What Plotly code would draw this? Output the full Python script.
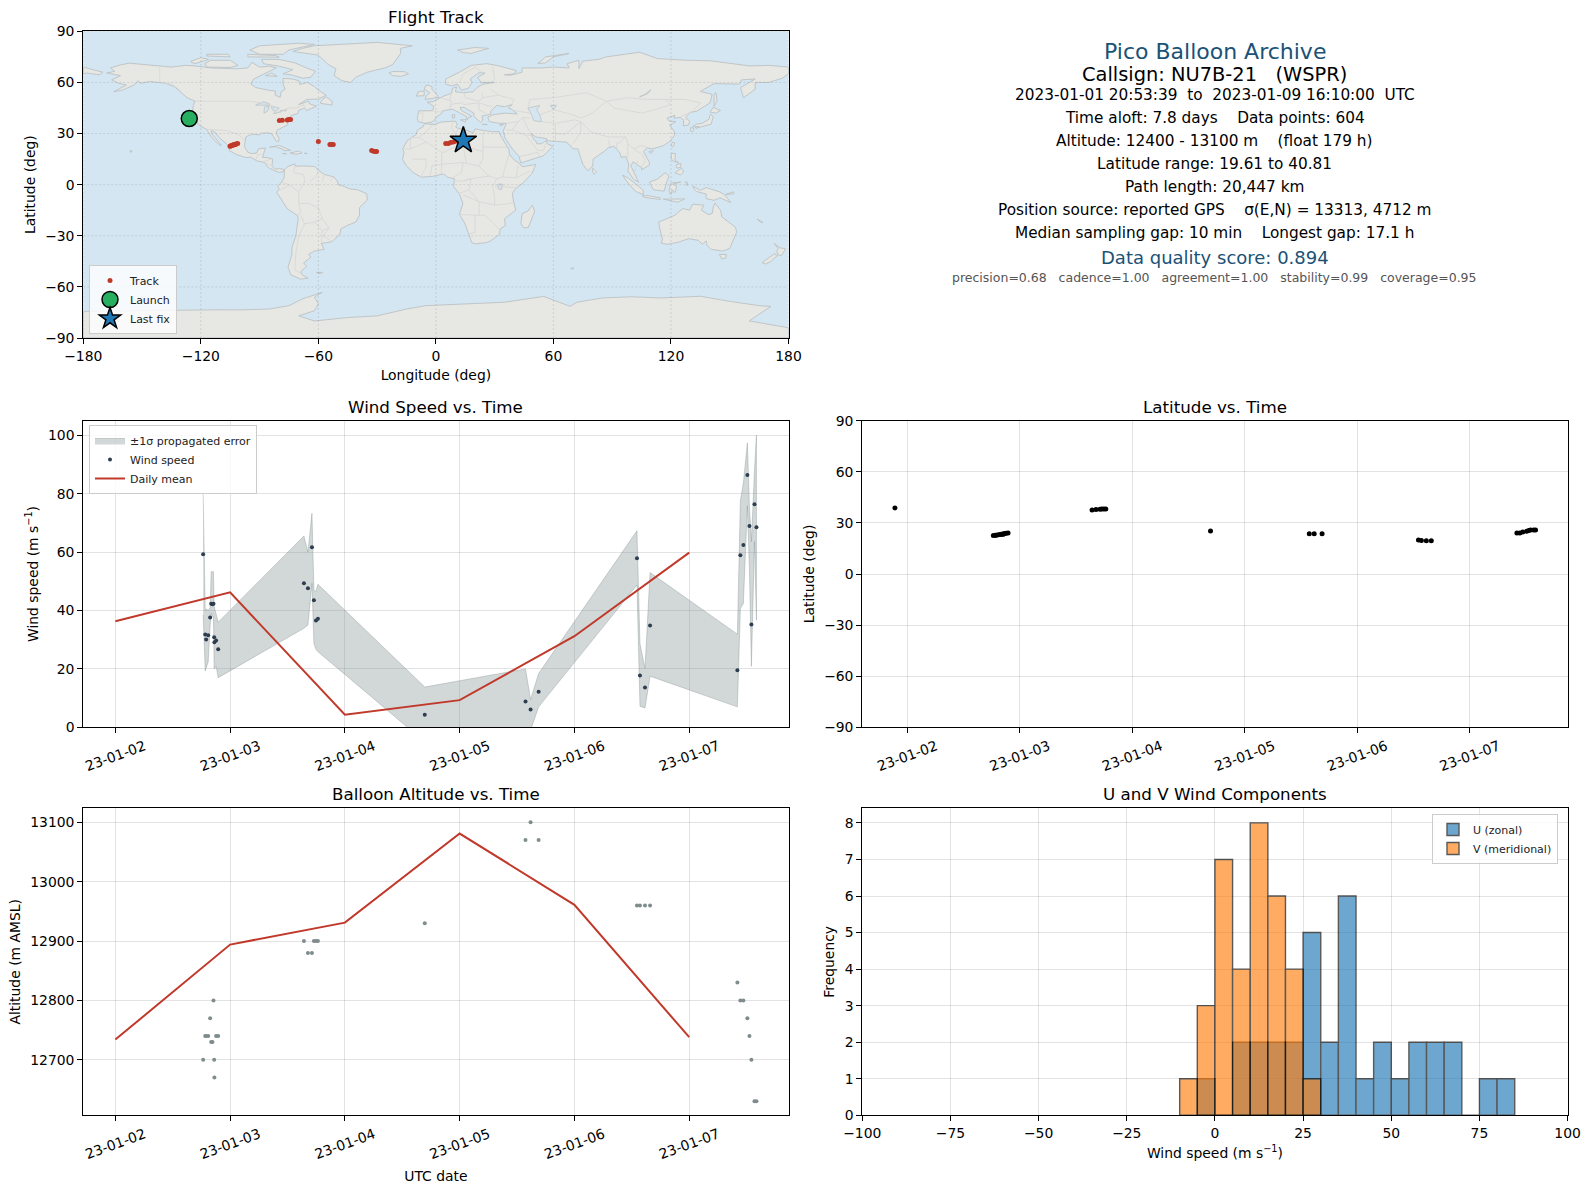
import plotly.graph_objects as go
import pandas as pd

# values
time_days = [0.765, 0.783, 0.791, 0.809, 0.826, 0.835, 0.846, 0.855, 0.861, 0.863, 0.878, 0.896,
             1.643, 1.678, 1.713, 1.730, 1.748, 1.765, 2.696, 3.574, 3.618, 3.688,
             4.545, 4.571, 4.615, 4.659, 5.420, 5.446, 5.472, 5.507, 5.525, 5.542, 5.569, 5.586]
wind_speed = [59.3, 31.8, 30.1, 31.5, 37.6, 42.3, 42.1, 42.3, 30.8, 29.1, 29.7, 26.7,
              49.3, 47.6, 61.7, 43.5, 36.6, 37.2, 4.3, 8.8, 6.1, 12.2,
              57.9, 17.7, 13.6, 34.9, 19.5, 58.9, 62.4, 86.4, 68.9, 35.2, 76.4, 68.5]
wind_upper = [80, 40, 40.5, 40, 41, 53.3, 53.3, 53.3, 41.3, 41, 39.5, 36,
              65.5, 60, 73.3, 47, 46.5, 49, 13.8, 20, 9.5, 18.4,
              67.3, 28.7, 20.1, 53, 31.9, 77.7, 83.6, 97.4, 75.6, 63.6, 88, 100]
wind_lower = [38.5, 19.3, 20, 22.4, 35, 39, 38, 38, 20, 20, 21, 17,
              33.9, 35, 49.3, 28.7, 26.7, 25.9, -5, -2.4, -1, 7,
              48.7, 7.2, 6.6, 17.5, 7, 40.7, 42.4, 75.9, 53.9, 20.9, 63.6, 36.7]
altitude = [12700, 12740, 12740, 12740, 12770, 12730, 12730, 12800, 12700, 12670, 12740, 12740,
            12900, 12880, 12880, 12900, 12900, 12900, 12930, 13070, 13100, 13070,
            12960, 12960, 12960, 12960, 12830, 12800, 12800, 12770, 12740, 12700, 12630, 12630]
latitude = [22.6, 22.7, 22.8, 23.0, 23.2, 23.3, 23.4, 23.5, 23.6, 23.7, 23.9, 24.1,
            37.6, 37.8, 38.0, 38.1, 38.2, 38.2, 25.3, 23.6, 23.6, 23.6,
            20.0, 19.6, 19.5, 19.5, 24.1, 24.1, 24.7, 25.1, 25.5, 25.9, 25.9, 25.9]
longitude = [-105.1, -104.8, -104.6, -104.1, -103.7, -103.4, -103.0, -102.7, -102.5, -102.3, -102.0, -101.2,
             -79.9, -78.4, -75.9, -75.3, -74.8, -74.2, -60.0, -54.1, -53.3, -52.4,
             -32.8, -31.8, -31.0, -30.3, 5.0, 6.3, 7.5, 8.8, 10.0, 11.3, 12.6, 14.0]
launch_day = [-0.11]
launch_lon = [-125.9]
launch_lat = [38.8]

mean_days = [0, 1, 2, 3, 4, 5]
mean_wind = [36.3, 46.2, 4.3, 9.3, 31.2, 59.8]
mean_alt = [12734, 12894, 12931, 13081, 12961, 12738]

u_edges = [-5, 0, 5, 10, 15, 20, 25, 30, 35, 40, 45, 50, 55, 60, 65, 70, 75, 80, 85]
u_counts = [1, 0, 2, 2, 2, 2, 5, 2, 6, 1, 2, 1, 2, 2, 2, 0, 1, 1]
v_edges = [-10, -5, 0, 5, 10, 15, 20, 25, 30]
v_counts = [1, 3, 7, 4, 8, 6, 4, 1]

info_lines = [
    "Pico Balloon Archive",
    "Callsign: NU7B-21\u00a0\u00a0\u00a0(WSPR)",
    "2023-01-01 20:53:39\u00a0\u00a0to\u00a0\u00a02023-01-09 16:10:00\u00a0\u00a0UTC",
    "Time aloft: 7.8 days\u00a0\u00a0\u00a0\u00a0Data points: 604",
    "Altitude: 12400 - 13100 m\u00a0\u00a0\u00a0\u00a0(float 179 h)",
    "Latitude range: 19.61 to 40.81",
    "Path length: 20,447 km",
    "Position source: reported GPS\u00a0\u00a0\u00a0\u00a0\u03c3(E,N) = 13313, 4712 m",
    "Median sampling gap: 10 min\u00a0\u00a0\u00a0\u00a0Longest gap: 17.1 h",
    "Data quality score: 0.894",
    "precision=0.68\u00a0\u00a0\u00a0cadence=1.00\u00a0\u00a0\u00a0agreement=1.00\u00a0\u00a0\u00a0stability=0.99\u00a0\u00a0\u00a0coverage=0.95",
]

# rough coastlines, lon/lat
north_america = [(-168, 65.5), (-164, 66.5), (-166, 68.5), (-161, 70.3), (-156.5, 71.3), (-150, 70.5), (-141, 69.7),
                 (-135, 69), (-128, 70), (-124, 69.8), (-115, 68.5), (-108, 68), (-102, 68), (-96, 68.5), (-94, 71.8),
                 (-90, 69), (-85, 69.5), (-81.5, 68.5), (-87, 65.5), (-93, 62), (-94.5, 59), (-92, 57), (-85, 55.3),
                 (-82, 55), (-82, 52.5), (-79.5, 51.3), (-79, 54.5), (-77, 56), (-78, 59), (-78, 62.4), (-73, 62),
                 (-70, 61), (-69.5, 58.8), (-65.5, 60), (-62, 57.5), (-60, 55.5), (-56, 52.5), (-60, 50.2), (-66, 50),
                 (-70, 47), (-65, 49), (-64.5, 47.5), (-61, 46), (-64, 44.5), (-66, 43.5), (-67, 45), (-70, 43.7),
                 (-70.5, 41.7), (-74, 40.5), (-75.5, 38), (-76, 36.5), (-75.5, 35.2), (-78, 33.9), (-81, 32),
                 (-81.5, 30), (-80, 27), (-80.3, 25.3), (-81.5, 25.5), (-82.8, 28), (-84, 30), (-86, 30.4), (-89, 30.2),
                 (-90, 29.2), (-94, 29.6), (-97, 28), (-97.5, 25), (-97.8, 22.4), (-96, 19), (-94, 18.2), (-91.5, 18.6),
                 (-90.5, 21), (-87, 21.5), (-87.7, 18.5), (-88.5, 16), (-86, 15.9), (-83.3, 15), (-83.7, 11), (-82, 9),
                 (-79.7, 9.5), (-77.4, 8.7), (-78, 7.5), (-80.2, 7.3), (-82.5, 8.2), (-85.5, 10), (-87.5, 13), (-91.5, 14),
                 (-94.5, 16.2), (-97, 15.9), (-101.5, 17.5), (-105.5, 20), (-105.5, 22.5), (-108.5, 25.2), (-110.5, 27.5),
                 (-113, 31), (-114.7, 31.7), (-114.5, 30), (-111, 25), (-109.5, 23), (-110.3, 23.2), (-112.2, 25),
                 (-114.5, 27.8), (-116, 30.5), (-117.2, 32.6), (-120.5, 34.5), (-122.5, 37.5), (-124.3, 40.5), (-124, 46),
                 (-123, 49), (-127, 51), (-130.5, 54.5), (-133.5, 57.5), (-138, 59.5), (-146, 60.5), (-151, 59.5),
                 (-152, 61), (-154, 58.5), (-160, 55.5), (-164.5, 54.5), (-158, 58.5), (-162, 59.5), (-165.5, 61.5),
                 (-161, 64), (-168, 65.5)]
south_america = [(-77.4, 8.7), (-75.5, 10.7), (-72, 12.2), (-71.5, 10.8), (-68, 11), (-62, 10.7), (-60, 8.5), (-57, 6),
                 (-52, 4.5), (-50, 1.5), (-50, 0), (-47.5, -0.7), (-44, -2.5), (-40, -3), (-35.3, -5.3), (-35, -9),
                 (-39, -13.5), (-39, -18), (-41, -22), (-45, -23.8), (-48.5, -26), (-49, -29), (-53, -33.5), (-58.5, -34.5),
                 (-57, -38), (-62, -39), (-65, -41), (-63.8, -42.5), (-67.5, -46), (-66, -48), (-69, -51), (-68.3, -53),
                 (-65.2, -54.8), (-69, -55.5), (-74, -53), (-75.5, -48.5), (-73.5, -41), (-73.5, -37), (-71.5, -30),
                 (-70.3, -20), (-70.5, -18.3), (-76, -14), (-79.5, -7.5), (-81.3, -4.5), (-80, -2.5), (-80.8, -1),
                 (-78.8, 1.5), (-77.5, 4), (-77.4, 7), (-77.4, 8.7)]
africa = [(-5.9, 35.8), (-1, 35.3), (3, 36.8), (10, 37.3), (11, 35), (10, 34), (11, 33.2), (15, 32.3), (19, 30.3), (20, 32.7),
          (25, 31.7), (29, 31), (32.3, 31.2), (32.5, 29.8), (34, 27), (36, 23), (37.3, 20.5), (37.5, 18), (39.5, 15), (43, 12),
          (44, 10.5), (51, 11.8), (49, 6.5), (44.5, 1), (41, -2), (39, -5), (39.5, -9), (40.7, -15), (35, -20), (35.5, -24),
          (32.8, -26), (32.5, -29), (28, -33), (25.7, -34), (20, -34.8), (18.3, -34), (17, -30), (14.7, -22.5), (12, -17.5),
          (13.8, -11), (12, -5.5), (9, -1), (9.5, 3.5), (6, 4.3), (4, 6.3), (-2, 4.8), (-7.5, 4.4), (-11.5, 7), (-15, 11),
          (-17, 14.7), (-16.3, 19), (-17, 21), (-14.5, 26), (-10, 29.5), (-9.5, 32), (-6.5, 34), (-5.9, 35.8)]
eurasia = [(-9, 37), (-9.5, 38.7), (-8.8, 43.3), (-1.8, 43.4), (-1, 46), (-4.5, 48.4), (-1.5, 48.7), (1.5, 50.5), (4, 52),
           (8, 53.7), (8.5, 56.5), (10.5, 57.5), (10, 54.5), (14, 54), (19, 54.5), (21, 57), (24, 59), (30, 60), (23, 60),
           (21.3, 63), (25, 65.5), (22, 65.7), (17.5, 62), (18.5, 60), (16.5, 56.5), (13, 55.5), (11, 59), (8, 58), (5, 59),
           (5, 62), (12, 66), (18, 70), (26, 71), (31, 70), (41, 67), (40, 65), (35, 64.5), (38, 64.2), (44, 66), (44, 68.5),
           (54, 68.5), (60, 69), (68, 68.5), (67, 71), (73, 73), (73, 68), (75, 72.5), (83, 73.5), (87, 75), (104, 77.7),
           (113, 74), (128, 73), (140, 72.7), (160, 69.7), (170, 70), (180, 69), (180, 65), (177, 62.5), (170, 60), (163, 60),
           (163, 56), (157, 51), (155.5, 57), (163, 62), (156, 61.5), (155, 59), (142, 59.3), (135, 54.7), (141, 53), (140, 48),
           (133, 43), (130, 42.5), (127.5, 39.8), (129.5, 37), (129, 35), (126.3, 34.5), (126.5, 37.5), (125, 39.5), (121.5, 39),
           (122, 40.7), (118, 39), (119, 37.3), (122.5, 37), (119.3, 35), (121.8, 31), (121.8, 29), (119.5, 25.5), (116, 22.8),
           (110.5, 21), (108, 21.6), (106, 19.5), (109, 13), (109, 11.5), (105, 8.7), (105, 10), (100.7, 13.4), (99.5, 11),
           (103.5, 1.5), (101, 3), (98, 8), (98.5, 12), (97, 16.5), (94.5, 16), (94, 18.5), (91, 22.5), (88, 21.7), (86.5, 20),
           (80.3, 15), (80, 11), (77.5, 8), (75, 12), (73, 19), (72.5, 21), (70, 21), (69, 22.5), (66.5, 25), (61, 25.2),
           (57, 25.7), (56.5, 27), (51, 28), (48.5, 30), (50, 26.5), (51.3, 25), (51.5, 24), (54, 24), (56.3, 26), (56.8, 24),
           (59.7, 22.5), (55, 17), (52, 15.8), (45, 13), (43.3, 12.7), (42.5, 16.5), (39, 21), (35, 28), (34.9, 29.5), (34.3, 31.3),
           (36, 36), (32.5, 36), (30.5, 36.5), (27.3, 37), (26.5, 39.5), (29, 41), (35, 42), (41.5, 41.5), (39, 44), (37, 45),
           (39, 47), (35, 45.8), (33, 46), (31, 46.5), (28, 43), (28, 41.5), (26, 40.8), (23.5, 40.2), (24, 38), (22.8, 36.5),
           (19.5, 40), (19.3, 42), (14.5, 45.3), (12.3, 45.3), (13, 43.5), (18.4, 40), (16.5, 39.5), (16, 38), (15.5, 40), (10.5, 43),
           (8.5, 44.3), (3.2, 43.2), (3, 41.8), (0, 39.5), (-0.5, 38), (-2, 36.8), (-5.5, 36), (-9, 37)]
australia = [(113.7, -22), (114.3, -26), (115.7, -32), (115, -34.3), (118, -35), (123.5, -33.9), (129, -31.7), (134, -32.7),
             (136, -35), (138, -33), (138.3, -35.5), (140.5, -38), (144, -38.5), (146.3, -39), (150, -37.5), (151.5, -33),
             (153.5, -28), (153, -25), (149.5, -22), (146, -19), (145.3, -15), (143.5, -12.7), (142.5, -10.8), (141.7, -13),
             (141, -17), (139, -17.5), (135.5, -15), (136.7, -12), (131, -11.5), (129.5, -15), (126, -14), (122, -18),
             (117, -20.7), (113.7, -22)]
antarctica = [(-180, -84), (-180, -74.4), (-110, -73.4), (-100, -73.5), (-85, -73), (-75, -71), (-68, -67), (-58, -63.2),
              (-62, -66), (-60, -70), (-62, -74), (-70, -77), (-62, -80), (-45, -78), (-30, -77), (-15, -73), (-5, -71), (15, -70),
              (35, -69), (55, -65.6), (68.5, -71.4), (72, -69), (85, -66.5), (100, -65.8), (115, -66.5), (135, -65.5), (150, -68.5),
              (165, -71), (171, -71.5), (165, -76), (160, -80), (180, -84), (180, -90), (-180, -90), (-180, -84)]
islands = [
    [(-180, 69), (-175, 67.5), (-170, 66), (-172, 64.5), (-178, 65.5), (-180, 65), (-180, 69)],
    [(-73, 78.2), (-60, 76), (-55, 70.5), (-51, 68), (-52, 64), (-48, 61), (-43.5, 60), (-41, 63), (-35, 66), (-26, 68.5),
     (-22, 70.5), (-20, 74), (-18, 77), (-18, 80), (-12, 81.5), (-30, 83.5), (-50, 82.5), (-62, 81.5), (-68, 80), (-73, 78.2)],
    [(-80, 73.5), (-72, 71.5), (-67, 69), (-61.5, 66.5), (-64, 63), (-68, 62.5), (-74, 64.5), (-78, 65), (-73, 67.5), (-80, 69.5),
     (-88, 71), (-89, 73.5), (-80, 73.5)],
    [(-117, 69), (-105, 68.8), (-101, 70), (-105, 73), (-115, 73), (-118, 71), (-117, 69)],
    [(-125, 72), (-123, 71), (-116, 73.5), (-120, 74.5), (-125, 72.5), (-125, 72)],
    [(-90, 76.5), (-78, 76.5), (-75, 79), (-62, 82.3), (-70, 83), (-90, 81.5), (-95, 79), (-90, 76.5)],
    [(-96, 75), (-80, 74.8), (-82, 75.8), (-96, 76.5), (-96, 75)],
    [(-117, 75.5), (-105, 75), (-106, 76.5), (-117, 76.5), (-117, 75.5)],
    [(-87, 64), (-81, 63.5), (-84, 65.5), (-87, 64)],
    [(-59, 47.7), (-53, 46.7), (-53, 49), (-56, 51.5), (-58, 50), (-59, 47.7)],
    [(-24, 65.5), (-22, 64), (-18, 63.5), (-14, 65), (-16, 66.3), (-22, 66.4), (-24, 65.5)],
    [(-84.8, 22), (-80, 23), (-74.2, 20.2), (-77.7, 19.9), (-78, 20.7), (-82, 22.3), (-84.8, 22)],
    [(-74.4, 18.5), (-70, 19.8), (-68.4, 18.6), (-71.5, 17.8), (-74.4, 18.5)],
    [(-78.3, 18.3), (-76.3, 18.1), (-77.2, 17.8), (-78.3, 18.3)],
    [(-67.2, 18.4), (-65.7, 18.3), (-66.5, 18), (-67.2, 18.4)],
    [(-61, -51.5), (-57.8, -51.5), (-59, -52.3), (-61, -51.5)],
    [(-156, 19), (-155, 19.6), (-156, 20.2), (-156, 19)],
    [(-5.5, 50), (1.5, 51.2), (0, 53.5), (-2, 56), (-2, 57.6), (-5, 58.6), (-6, 56), (-3, 54), (-5, 52), (-5.5, 50)],
    [(-10, 52), (-6, 52.2), (-6, 55), (-9, 54.5), (-10, 52)],
    [(11, 79), (20, 80.5), (27, 80), (18, 77), (14, 77.5), (11, 79)],
    [(52, 71), (56, 75), (68, 77), (60, 75), (56, 71.5), (52, 71)],
    [(12.5, 38), (15.5, 38.2), (15, 36.7), (12.5, 38)],
    [(8.3, 41), (9.7, 41), (9.5, 39.2), (8.5, 39), (8.3, 41)],
    [(23.6, 35.4), (26.2, 35.2), (24.8, 34.9), (23.6, 35.4)],
    [(32.5, 35), (34.5, 35.5), (33.5, 34.6), (32.5, 35)],
    [(49.3, -12), (50.4, -15.8), (47.2, -25), (45, -25.5), (43.4, -23), (44, -17), (47, -15.5), (49.3, -12)],
    [(80, 9.7), (82, 7.5), (80.7, 6), (80, 7.5), (80, 9.7)],
    [(131, 34), (133, 35.5), (136, 36), (139.5, 38.5), (140, 41.3), (141.7, 40), (141, 37.5), (140.5, 35.5), (137, 34.5), (135, 33.7), (131, 34)],
    [(130, 33.5), (131.8, 33), (131, 31), (130, 31.5), (130, 33.5)],
    [(132.5, 34), (134.5, 34), (133, 32.9), (132.5, 34)],
    [(140, 42.5), (141.5, 45.4), (145.3, 43.5), (143, 42), (140, 42.5)],
    [(142, 46), (143.5, 49), (143, 54), (142, 53), (142, 48), (142, 46)],
    [(121, 25), (122, 24.5), (120.8, 22), (120, 23.5), (121, 25)],
    [(108.7, 19.3), (111, 20), (110, 18.3), (108.7, 19.3)],
    [(120.5, 18.5), (122.3, 18.2), (122, 14.3), (124, 12.8), (120.7, 14), (120, 16.5), (120.5, 18.5)],
    [(122, 7), (125.5, 9.7), (126.5, 7.5), (125, 5.7), (122, 7)],
    [(122.5, 11.5), (125, 12.5), (125, 10.2), (123, 9.7), (122.5, 11.5)],
    [(109, 1.5), (113, 3.2), (117, 7), (119, 5), (117.7, 1), (116.5, -3.8), (111, -3), (109.5, 0), (109, 1.5)],
    [(95.3, 5.6), (98, 4), (103.5, -1), (106, -3.5), (105.8, -5.8), (102, -4), (98, 1), (95.3, 5.6)],
    [(105.3, -6.5), (108.5, -6.5), (114.5, -7.7), (114.5, -8.7), (106.5, -7.5), (105.3, -6.5)],
    [(119.5, -5.5), (119, -3), (120, 1), (125, 1.5), (121, 0.3), (123, -1), (122, -4.7), (120.5, -2.8), (120.4, -5.5), (119.5, -5.5)],
    [(116, -8.5), (125, -8.5), (127, -8.4), (123.5, -10.3), (119, -9), (116, -8.5)],
    [(131, -0.8), (135, -3.3), (138, -1.7), (145, -4.3), (147.5, -6), (150.5, -10.5), (145, -7.7), (142, -9.2), (138, -8.2), (138, -5.5), (133, -4), (132, -2.8), (131, -0.8)],
    [(148, -5.7), (152, -4.2), (152, -5.5), (148, -5.7)],
    [(127.5, 1.8), (128.7, 1), (128, -0.8), (127.5, 1.8)],
    [(144.7, -41), (148.3, -41), (148, -43), (146, -43.6), (144.7, -41)],
    [(172.7, -34.5), (175.5, -37), (178.5, -37.7), (176.5, -41.5), (174.8, -41.3), (174, -39), (174.8, -37.5), (172.7, -34.5)],
    [(172.7, -40.6), (174.3, -41.7), (171, -45), (168.5, -46.6), (166.5, -45.8), (170, -43), (172.7, -40.6)],
    [(164, -20.2), (167, -22.3), (165.5, -21.8), (164, -20.2)],
    [(68.8, -49), (70.5, -49), (69.5, -49.8), (68.8, -49)],
]
lakes = [
    [(47, 45), (53, 46.5), (51.5, 44), (53, 41), (54, 37), (50, 37.5), (49, 40.5), (47, 45)],
    [(-92, 46.7), (-88, 48.7), (-85, 47.5), (-85, 46.6), (-92, 46.7)],
    [(-87.8, 42), (-86, 43), (-85, 46), (-87.5, 45.5), (-87.8, 42)],
    [(-84, 46), (-80, 45), (-81.7, 43), (-83.5, 44), (-84, 46)],
    [(-83, 41.7), (-79, 42.8), (-79, 42.4), (-83, 41.7)],
    [(-79.5, 43.3), (-76.2, 44), (-76.5, 43.4), (-79.5, 43.3)],
    [(58.5, 46.5), (61.5, 46.5), (60, 44), (58.5, 46.5)],
    [(31.7, 0.3), (34, 0.3), (33.5, -2.8), (31.8, -2.5), (31.7, 0.3)],
    [(104, 51.6), (106, 52.5), (109.8, 55.7), (108, 53.3), (104, 51.6)],
]
borders = [
    [(-123, 49), (-95, 49), (-89, 48), (-83, 46), (-82.5, 42), (-79, 43), (-75, 45), (-71, 45), (-67.5, 47), (-67, 45)],
    [(-141, 69.7), (-141, 60), (-135, 59), (-130, 55)],
    [(-117, 32.5), (-106.5, 31.7), (-101, 29.5), (-97.5, 26)],
    [(-92, 14.5), (-91, 17.5), (-89, 17.8)], [(-88, 13.5), (-84, 15)], [(-87, 13), (-83.7, 11)], [(-83.7, 11), (-82.7, 9)],
    [(-72, 12), (-72.5, 7), (-67.5, 6), (-67, 1.5), (-70, -4.2)], [(-78.8, 1.5), (-75, 0), (-70, -4.2), (-70, -11), (-69, -16), (-70.3, -18)],
    [(-80, -3.5), (-75, -0.5)], [(-60, 8.5), (-61, 5), (-64, 2)], [(-57, 6), (-58, 2)], [(-52, 4.5), (-54, 2.2)],
    [(-70, -11), (-65, -11), (-60, -13.5), (-58, -20), (-62, -22), (-67, -23), (-69, -18)],
    [(-67, -23), (-70, -30), (-71.5, -40), (-72, -50), (-69, -52)], [(-58, -20), (-54.5, -25.5), (-58, -27), (-62, -22)],
    [(-54.5, -25.5), (-57.5, -30), (-53, -33.5)], [(-58, -27), (-58.4, -34)],
    [(-1.7, 35), (-5, 31), (-8.7, 27.7), (-13, 27.7)], [(-8.7, 27.7), (-4.8, 25), (3, 19), (4, 19), (12, 23.5), (14, 22.5), (24, 19.5), (24, 30), (25, 31.7)],
    [(12, 23.5), (10, 30), (8, 33), (8.5, 37)], [(10, 30), (11.5, 33)], [(24, 22), (37, 22)], [(24, 19.5), (24, 15), (22, 11), (27, 5), (31, 3.5), (34, 4.5), (36, 13), (37.5, 18)],
    [(-17, 21), (-13, 21), (-13, 27.7)], [(-13, 21), (-5, 25)], [(3, 19), (3, 12), (-2, 11), (-3, 5)], [(3, 12), (2.7, 6.3)], [(-12, 15), (-5, 15), (-5, 10), (-8, 4.5)],
    [(14, 22.5), (15.5, 12.5), (14, 13), (13, 7), (9, 4.5)], [(3, 12), (14, 13)], [(15.5, 12.5), (22, 11)], [(14, 2.2), (18, 3.5), (27, 5)],
    [(9.8, 2.2), (14, 2.2), (18, 3.5), (17, -3), (12, -5)], [(17, -3), (22, -10), (13.8, -6)], [(22, -10), (22, -18), (12, -17.5)], [(22, -10), (30, -12), (30, -8), (29, -1), (31, 3.5)],
    [(22, -18), (25, -18), (29, -22), (32, -26)], [(20, -18), (20, -28), (17, -29)], [(30, -12), (35, -11.5), (40, -10.5)], [(30, -1), (34, -1), (41, -2)], [(34, 4.5), (41, 4), (42, 11)], [(41, 4), (48, 8)],
    [(-1.8, 43.4), (3, 42.4)], [(-9, 42), (-6.5, 42), (-7, 37)], [(2.5, 51), (8, 49), (7, 44)], [(8, 54), (7, 49.5)], [(14.3, 54), (15, 51), (22, 49), (24, 51), (23.5, 54)], [(14, 48), (9, 47.5), (7, 46)], [(14, 47), (22, 48), (29, 45.5)], [(22, 48), (22, 44), (26, 41.5)],
    [(28, 60), (30, 62), (29, 69.5)], [(24, 65.5), (20, 69)], [(12, 60), (14, 65), (20, 69)], [(28, 56), (32, 52.5), (40, 50), (38.5, 47)], [(24, 51), (32, 52.5)],
    [(40, 43.5), (48, 42)], [(47, 45), (48, 50), (60, 51), (77, 54), (87, 49)], [(87, 49), (98, 51), (108, 50), (117, 50), (127, 50), (135, 48), (131, 43)],
    [(87, 49), (80, 42), (74, 39)], [(87, 49), (91, 45), (105, 42), (112, 44), (120, 47), (117, 50)], [(53, 41), (60, 44), (70, 41), (74, 39)], [(54, 37), (61, 36), (61, 30), (61, 25)],
    [(61, 36), (66, 37), (71, 38), (74, 37)], [(74, 37), (70, 33), (66, 29.5), (61, 30)], [(74, 37), (74, 31), (70, 24)], [(74, 37), (79, 31), (88, 28), (97, 28), (98, 24), (101, 21), (105, 23), (108, 21.6)],
    [(88, 26), (89, 22)], [(92, 25), (92.5, 21)], [(97, 28), (93, 24)], [(98, 24), (98, 16)], [(101, 21), (105, 18), (107, 14), (105, 10.5)], [(101, 6), (103, 14)],
    [(36, 36), (42, 37), (44.5, 39.5), (48, 39)], [(44.5, 39.5), (46, 35), (48.5, 30)], [(36, 32), (39, 32), (42, 37)], [(39, 32), (46, 29), (48.5, 29)], [(46, 29), (52, 20), (55, 20), (56, 24)], [(43, 16.5), (52, 19), (53, 16)], [(125, 40), (130, 42.5)], [(126, 38), (128.5, 38.5)],
]

lon_ticks = [-180, -120, -60, 0, 60, 120, 180]
lat_ticks = [-90, -60, -30, 0, 30, 60, 90]
wind_ticks = [0, 20, 40, 60, 80, 100]
alt_ticks = [12700, 12800, 12900, 13000, 13100]
freq_ticks = [0, 1, 2, 3, 4, 5, 6, 7, 8]
hist_ticks = [-100, -75, -50, -25, 0, 25, 50, 75, 100]

# layout in pixels of the 1589x1189 page
W, H = 1589, 1189
LEFT = [83.3 / W, 788.5 / W]
RIGHT = [862.3 / W, 1567.6 / W]


def row(top, bottom):
    return [1 - bottom / H, 1 - top / H]


ROW1 = row(31.3, 338)
ROW2 = row(420.7, 727.3)
ROW3 = row(808.3, 1115.3)

FONT = "DejaVu Sans"
RED = "#c0392b"
DARK = "#2c3e50"
GREY = "#7f8c8d"
BLUE = "#1a5276"
GRID = "rgba(0,0,0,0.11)"


def stamp(days):
    return pd.Timestamp("2023-01-02") + pd.to_timedelta(days, unit="D")


def outline(polygons):
    xs, ys = [], []
    for poly in polygons:
        xs += [p[0] for p in poly] + [None]
        ys += [p[1] for p in poly] + [None]
    return xs, ys


def ax_style(domain, anchor, title=None, standoff=None, **kw):
    d = dict(domain=domain, anchor=anchor, automargin=False, showline=True, mirror=True, linecolor="black", linewidth=1.1,
             ticks="outside", ticklen=5, tickwidth=1.1, tickcolor="black", showgrid=True, gridcolor=GRID,
             gridwidth=1.1, zeroline=False, tickfont=dict(size=13.9, color="black"), layer="above traces")
    if title:
        d["title"] = dict(text=title, standoff=standoff, font=dict(size=13.9, color="black"))
    d.update(kw)
    return d


def time_axis(domain, anchor, rng, title=None):
    return ax_style(domain, anchor, title=title, standoff=10, type="date", range=[stamp(rng[0]), stamp(rng[1])],
                    tick0="2023-01-02", dtick=86400000, tickformat="%y-%m-%d", tickangle=-20,
                    ticklabelshift=29, ticklabelstandoff=0)


fig = go.Figure()

# flight track map
land_x, land_y = outline([north_america, south_america, africa, eurasia, australia, antarctica] + islands)
fig.add_trace(go.Scatter(x=land_x, y=land_y, mode="lines", fill="toself", fillcolor="#e7e7e3",
                         line=dict(color="#bcc2c4", width=0.9), xaxis="x", yaxis="y", showlegend=False, hoverinfo="skip"))
lake_x, lake_y = outline(lakes)
fig.add_trace(go.Scatter(x=lake_x, y=lake_y, mode="lines", fill="toself", fillcolor="#d4e6f1",
                         line=dict(color="#bcc2c4", width=0.8), xaxis="x", yaxis="y", showlegend=False, hoverinfo="skip"))
border_x, border_y = outline(borders)
fig.add_trace(go.Scatter(x=border_x, y=border_y, mode="lines", line=dict(color="#d6d7d5", width=0.8),
                         xaxis="x", yaxis="y", showlegend=False, hoverinfo="skip"))
grid_x, grid_y = outline([[(v, -90), (v, 90)] for v in lon_ticks] + [[(-180, v), (180, v)] for v in lat_ticks])
fig.add_trace(go.Scatter(x=grid_x, y=grid_y, mode="lines", line=dict(color="rgba(90,100,105,0.2)", width=0.9, dash="2px,2px"),
                         xaxis="x", yaxis="y", showlegend=False, hoverinfo="skip"))
fig.add_trace(go.Scatter(x=longitude, y=latitude, mode="markers", name="Track", legend="legend",
                         marker=dict(color=RED, size=5), xaxis="x", yaxis="y"))
fig.add_trace(go.Scatter(x=launch_lon, y=launch_lat, mode="markers", name="Launch", legend="legend",
                         marker=dict(color="#27ae60", size=16, line=dict(color="black", width=1.5)), xaxis="x", yaxis="y"))
fig.add_trace(go.Scatter(x=longitude[-1:], y=latitude[-1:], mode="markers", name="Last fix", legend="legend",
                         marker=dict(color="#1f77b4", size=20, symbol="star", line=dict(color="black", width=1.5)),
                         xaxis="x", yaxis="y"))

# wind speed
t = stamp(time_days)
band_x = list(t) + list(t[::-1])
band_y = wind_upper + wind_lower[::-1]
fig.add_trace(go.Scatter(x=band_x, y=band_y, mode="lines", fill="toself", fillcolor="rgba(127,140,141,0.35)",
                         line=dict(color="rgba(127,140,141,0.35)", width=1), name="\u00b11\u03c3 propagated error",
                         legend="legend2", xaxis="x2", yaxis="y2"))
fig.add_trace(go.Scatter(x=t, y=wind_speed, mode="markers", name="Wind speed", legend="legend2",
                         marker=dict(color=DARK, size=4), xaxis="x2", yaxis="y2"))
fig.add_trace(go.Scatter(x=stamp(mean_days), y=mean_wind, mode="lines", name="Daily mean", legend="legend2",
                         line=dict(color=RED, width=2), xaxis="x2", yaxis="y2"))

# latitude
fig.add_trace(go.Scatter(x=stamp(launch_day + time_days), y=launch_lat + latitude, mode="markers", showlegend=False,
                         marker=dict(color="black", size=5), xaxis="x3", yaxis="y3"))

# altitude
fig.add_trace(go.Scatter(x=t, y=altitude, mode="markers", showlegend=False,
                         marker=dict(color=GREY, size=4), xaxis="x4", yaxis="y4"))
fig.add_trace(go.Scatter(x=stamp(mean_days), y=mean_alt, mode="lines", showlegend=False,
                         line=dict(color=RED, width=2), xaxis="x4", yaxis="y4"))

# wind components
for edges, counts, name, color in [(u_edges, u_counts, "U (zonal)", "#1f77b4"), (v_edges, v_counts, "V (meridional)", "#ff7f0e")]:
    centers = [(a + b) / 2 for a, b in zip(edges[:-1], edges[1:])]
    fig.add_trace(go.Bar(x=centers, y=counts, width=5, name=name, legend="legend3", opacity=0.65,
                         marker=dict(color=color, line=dict(color="black", width=1.4)), xaxis="x5", yaxis="y5"))

annotations = []
for text, dom_x, dom_y in [("Flight Track", LEFT, ROW1), ("Wind Speed vs. Time", LEFT, ROW2), ("Latitude vs. Time", RIGHT, ROW2),
                           ("Balloon Altitude vs. Time", LEFT, ROW3), ("U and V Wind Components", RIGHT, ROW3)]:
    annotations.append(dict(text=text, x=sum(dom_x) / 2, y=dom_y[1], xref="paper", yref="paper", xanchor="center",
                            yanchor="bottom", yshift=2, showarrow=False, font=dict(size=16.7, color="black")))

info_y = [51, 74, 95, 118, 141, 164, 187, 210, 233, 257, 278]
info_size = [22, 19.4, 15.3, 15.3, 15.3, 15.3, 15.3, 15.3, 15.3, 18, 12.5]
info_color = [BLUE, "black", "black", "black", "black", "black", "black", "black", "black", BLUE, "#555555"]
for text, ypx, size, color in zip(info_lines, info_y, info_size, info_color):
    annotations.append(dict(text=text, x=sum(RIGHT) / 2, y=1 - ypx / H, xref="paper", yref="paper", xanchor="center",
                            yanchor="middle", showarrow=False, font=dict(size=size, color=color)))

legend_base = dict(xref="paper", yref="paper", bgcolor="rgba(255,255,255,0.8)", bordercolor="#cccccc", borderwidth=1,
                   font=dict(size=11, color="#222222"), tracegroupgap=0, itemclick=False)

fig.update_layout(
    width=W, height=H,
    margin=dict(l=0, r=0, t=0, b=0),
    autosize=False,
    paper_bgcolor="white",
    plot_bgcolor="white",
    font=dict(family=FONT, color="black"),
    barmode="overlay",
    annotations=annotations,
    shapes=[dict(type="rect", xref="x domain", yref="y domain", x0=0, x1=1, y0=0, y1=1,
                 fillcolor="#d4e6f1", line=dict(width=0), layer="below")],
    xaxis=ax_style(LEFT, "y", "Longitude (deg)", 7, range=[-180, 180], tickvals=lon_ticks,
                   gridcolor="rgba(0,0,0,0)"),
    yaxis=ax_style(ROW1, "x", "Latitude (deg)", 6, range=[-90, 90], tickvals=lat_ticks,
                   gridcolor="rgba(0,0,0,0)"),
    xaxis2=time_axis(LEFT, "y2", [-0.2793, 5.8653]),
    yaxis2=ax_style(ROW2, "x2", "Wind speed (m s<sup>\u22121</sup>)", 6, range=[0, 105], tickvals=wind_ticks),
    xaxis3=time_axis(RIGHT, "y3", [-0.40, 5.871]),
    yaxis3=ax_style(ROW2, "x3", "Latitude (deg)", 6, range=[-90, 90], tickvals=lat_ticks),
    xaxis4=time_axis(LEFT, "y4", [-0.2793, 5.8653], "UTC date"),
    yaxis4=ax_style(ROW3, "x4", "Altitude (m AMSL)", 6, range=[12606.5, 13123.5], tickvals=alt_ticks, tickformat="d"),
    xaxis5=ax_style(RIGHT, "y5", "Wind speed (m s<sup>\u22121</sup>)", 8, range=[-100, 100], tickvals=hist_ticks),
    yaxis5=ax_style(ROW3, "x5", "Frequency", 6, range=[0, 8.4], tickvals=freq_ticks),
    legend=dict(legend_base, x=89 / W, y=1 - 334 / H, xanchor="left", yanchor="bottom"),
    legend2=dict(legend_base, x=89 / W, y=1 - 425 / H, xanchor="left", yanchor="top"),
    legend3=dict(legend_base, x=1558 / W, y=1 - 814 / H, xanchor="right", yanchor="top"),
)

fig.write_html("out.html", config=dict(displayModeBar=False), post_script="document.body.style.margin='0';")
